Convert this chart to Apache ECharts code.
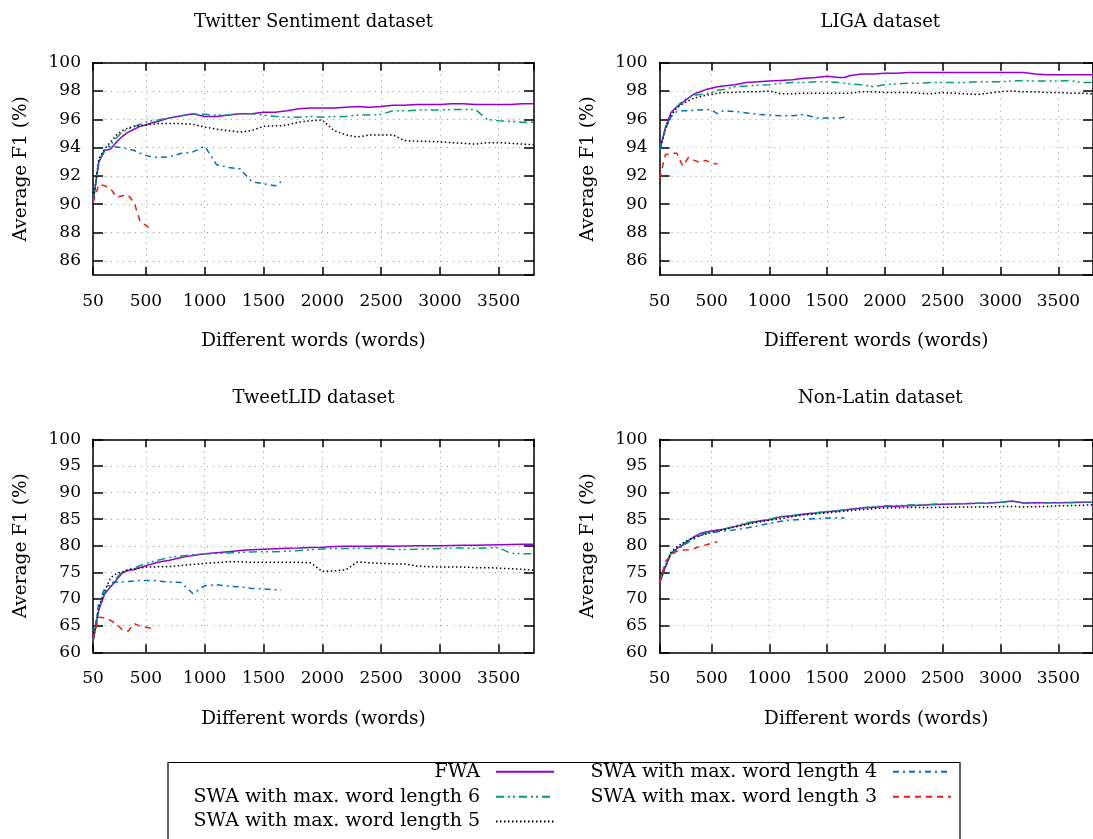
<!DOCTYPE html>
<html>
<head>
<meta charset="utf-8">
<script src="https://cdn.jsdelivr.net/npm/echarts@6/dist/echarts.min.js"></script>
<style>
html, body { margin: 0; padding: 0; background: #fff; }
#chart { width: 1093px; height: 839px; }
</style>
</head>
<body>
<div id="chart"></div>
<script>
// x values (number of different words), shared by every panel
const words = [50, 100, 150, 200, 250, 300, 350, 400, 450, 500, 550, 600, 700, 800, 900, 1000,
  1100, 1200, 1300, 1400, 1500, 1600, 1650, 1700, 1800, 1900, 2000, 2100, 2200, 2300, 2400,
  2500, 2600, 2700, 2800, 2900, 3000, 3100, 3200, 3300, 3400, 3500, 3600, 3700, 3800];

// Twitter Sentiment
const twitterFwa = [90.1, 93.0, 93.8, 93.9, 94.4, 94.8, 95.1, 95.3, 95.5, 95.6, 95.75, 95.85, 96.1, 96.25, 96.4, 96.2,
  96.2, 96.3, 96.4, 96.4, 96.5, 96.5, 96.55, 96.6, 96.75, 96.8, 96.8, 96.8, 96.85, 96.9, 96.85,
  96.9, 97.0, 97.0, 97.05, 97.05, 97.05, 97.1, 97.1, 97.05, 97.05, 97.05, 97.05, 97.1, 97.1];
const twitterSwa6 = [90.2, 93.1, 93.9, 94.2, 94.7, 95.1, 95.3, 95.5, 95.65, 95.8, 95.9, 95.95, 96.1, 96.25, 96.35, 96.35,
  96.3, 96.3, 96.4, 96.4, 96.3, 96.2, 96.2, 96.15, 96.15, 96.2, 96.15, 96.2, 96.2, 96.3, 96.3,
  96.35, 96.6, 96.6, 96.65, 96.65, 96.65, 96.7, 96.7, 96.7, 96.0, 95.9, 95.85, 95.8, 95.8];
const twitterSwa5 = [90.2, 93.2, 93.9, 94.4, 94.9, 95.2, 95.4, 95.5, 95.55, 95.6, 95.65, 95.7, 95.7, 95.7, 95.65, 95.45,
  95.3, 95.2, 95.1, 95.2, 95.5, 95.55, 95.55, 95.6, 95.8, 95.9, 95.95, 95.2, 94.9, 94.75, 94.9,
  94.9, 94.9, 94.5, 94.45, 94.45, 94.4, 94.35, 94.3, 94.25, 94.35, 94.35, 94.3, 94.25, 94.2];
const twitterSwa4 = [90.2, 93.0, 93.8, 94.1, 94.05, 94.0, 93.9, 93.8, 93.6, 93.45, 93.35, 93.3, 93.35, 93.6, 93.7, 94.1,
  92.8, 92.6, 92.5, 91.6, 91.45, 91.3, 91.6];
const twitterSwa3 = [90.1, 91.4, 91.3, 91.1, 90.5, 90.6, 90.65, 90.1, 88.8, 88.5, 88.2];

// LIGA
const ligaFwa = [93.8, 95.4, 96.5, 96.9, 97.2, 97.5, 97.8, 97.95, 98.1, 98.2, 98.3, 98.35, 98.45, 98.6, 98.65, 98.7,
  98.75, 98.8, 98.9, 98.95, 99.05, 98.95, 98.95, 99.1, 99.2, 99.2, 99.25, 99.25, 99.3, 99.3, 99.3,
  99.3, 99.3, 99.3, 99.3, 99.3, 99.3, 99.3, 99.3, 99.2, 99.15, 99.15, 99.15, 99.15, 99.15];
const ligaSwa6 = [93.8, 95.4, 96.3, 96.9, 97.3, 97.55, 97.7, 97.75, 97.8, 97.9, 98.05, 98.1, 98.3, 98.35, 98.4, 98.45,
  98.55, 98.6, 98.6, 98.65, 98.65, 98.6, 98.55, 98.5, 98.45, 98.3, 98.45, 98.5, 98.55, 98.55, 98.6,
  98.6, 98.6, 98.6, 98.65, 98.65, 98.65, 98.7, 98.75, 98.7, 98.7, 98.7, 98.75, 98.6, 98.6];
const ligaSwa5 = [93.8, 95.3, 96.3, 96.8, 97.1, 97.3, 97.5, 97.6, 97.7, 97.75, 97.85, 97.9, 97.9, 97.95, 97.95, 98.0,
  97.8, 97.8, 97.85, 97.85, 97.85, 97.85, 97.85, 97.85, 97.95, 97.95, 97.9, 97.9, 97.9, 97.85, 97.8,
  97.9, 97.85, 97.8, 97.75, 97.85, 97.95, 98.0, 97.95, 97.95, 97.9, 97.9, 97.85, 97.85, 97.8];
const ligaSwa4 = [93.8, 95.3, 96.2, 96.55, 96.6, 96.6, 96.65, 96.65, 96.7, 96.65, 96.4, 96.6, 96.55, 96.45, 96.35, 96.3,
  96.25, 96.25, 96.35, 96.1, 96.1, 96.1, 96.15];
const ligaSwa3 = [91.8, 93.5, 93.6, 93.6, 92.7, 93.3, 93.1, 92.95, 93.1, 92.9, 92.85];

// TweetLID
const tweetlidFwa = [62.0, 68.0, 71.0, 72.3, 73.6, 74.9, 75.4, 75.5, 75.9, 76.25, 76.6, 76.9, 77.3, 77.8, 78.2, 78.5,
  78.7, 78.9, 79.1, 79.25, 79.35, 79.45, 79.5, 79.55, 79.6, 79.7, 79.75, 79.85, 79.9, 79.9, 79.9,
  79.95, 79.9, 79.95, 80.0, 80.0, 80.0, 80.05, 80.1, 80.1, 80.15, 80.2, 80.25, 80.3, 80.3];
const tweetlidSwa6 = [62.0, 68.2, 71.3, 72.6, 74.0, 75.1, 75.5, 75.8, 76.3, 76.7, 77.0, 77.3, 77.8, 78.1, 78.3, 78.5,
  78.55, 78.65, 78.75, 78.85, 78.9, 78.9, 78.95, 79.0, 79.1, 79.25, 79.4, 79.5, 79.5, 79.55, 79.5,
  79.6, 79.3, 79.3, 79.35, 79.4, 79.5, 79.6, 79.6, 79.5, 79.6, 79.65, 78.6, 78.5, 78.5];
const tweetlidSwa5 = [62.0, 68.5, 71.6, 74.0, 74.8, 75.1, 75.5, 75.7, 75.8, 76.0, 76.0, 76.05, 76.1, 76.3, 76.5, 76.7,
  76.85, 77.0, 77.0, 76.9, 76.9, 76.9, 76.9, 76.9, 76.9, 76.8, 75.2, 75.3, 75.5, 77.0, 76.8,
  76.7, 76.6, 76.6, 76.2, 76.1, 76.0, 76.0, 76.0, 75.9, 75.9, 75.8, 75.7, 75.6, 75.4];
const tweetlidSwa4 = [62.0, 69.5, 72.0, 72.9, 73.2, 73.2, 73.3, 73.4, 73.5, 73.5, 73.5, 73.4, 73.2, 73.1, 71.0, 72.5,
  72.7, 72.4, 72.3, 72.0, 71.9, 71.75, 71.7];
const tweetlidSwa3 = [62.5, 66.6, 66.5, 66.0, 65.3, 64.2, 64.0, 65.4, 64.9, 64.7, 64.5];

// Non-Latin
const nonLatinFwa = [73.0, 76.0, 78.6, 79.5, 80.1, 81.0, 81.7, 82.3, 82.6, 82.8, 82.95, 83.1, 83.6, 84.15, 84.6, 84.9,
  85.45, 85.65, 85.95, 86.15, 86.4, 86.6, 86.7, 86.85, 87.1, 87.25, 87.4, 87.45, 87.5, 87.6, 87.7,
  87.8, 87.85, 87.9, 88.0, 88.05, 88.2, 88.4, 88.05, 88.1, 88.1, 88.1, 88.15, 88.2, 88.2];
const nonLatinSwa6 = [73.0, 76.2, 78.7, 79.6, 80.3, 81.0, 81.6, 82.1, 82.4, 82.6, 82.85, 83.05, 83.7, 84.3, 84.65, 85.0,
  85.5, 85.7, 86.0, 86.2, 86.45, 86.65, 86.75, 86.9, 87.15, 87.35, 87.5, 87.55, 87.65, 87.75, 87.8,
  87.85, 87.9, 87.95, 88.0, 88.05, 88.15, 88.3, 88.0, 88.0, 88.05, 88.1, 88.1, 88.15, 88.2];
const nonLatinSwa5 = [73.0, 76.3, 78.9, 79.8, 80.5, 81.1, 81.5, 81.9, 82.2, 82.5, 82.8, 83.0, 83.5, 84.0, 84.4, 84.8,
  85.1, 85.5, 85.8, 86.0, 86.2, 86.4, 86.5, 86.6, 86.8, 86.95, 87.1, 87.15, 87.2, 87.2, 87.2,
  87.25, 87.25, 87.3, 87.3, 87.35, 87.35, 87.4, 87.3, 87.35, 87.4, 87.5, 87.55, 87.6, 87.7];
const nonLatinSwa4 = [73.0, 76.0, 78.4, 79.3, 80.0, 80.7, 81.3, 81.9, 82.3, 82.5, 82.65, 82.75, 83.0, 83.35, 83.75, 84.2,
  84.6, 84.85, 85.0, 85.1, 85.2, 85.2, 85.2];
const nonLatinSwa3 = [73.0, 77.0, 78.3, 79.0, 79.2, 79.25, 79.5, 79.9, 80.15, 80.45, 80.75];

const seriesNames = ['FWA', 'SWA with max. word length 6', 'SWA with max. word length 5',
  'SWA with max. word length 4', 'SWA with max. word length 3'];

const panels = [
  { title: 'Twitter Sentiment dataset', yMin: 85, yStep: 2,
    lines: [twitterFwa, twitterSwa6, twitterSwa5, twitterSwa4, twitterSwa3] },
  { title: 'LIGA dataset', yMin: 85, yStep: 2,
    lines: [ligaFwa, ligaSwa6, ligaSwa5, ligaSwa4, ligaSwa3] },
  { title: 'TweetLID dataset', yMin: 60, yStep: 5,
    lines: [tweetlidFwa, tweetlidSwa6, tweetlidSwa5, tweetlidSwa4, tweetlidSwa3] },
  { title: 'Non-Latin dataset', yMin: 60, yStep: 5,
    lines: [nonLatinFwa, nonLatinSwa6, nonLatinSwa5, nonLatinSwa4, nonLatinSwa3] }
];

// layout
const boxes = [
  { left: 93, top: 62.7, width: 441, height: 212.3 },
  { left: 659.6, top: 62.7, width: 441.4, height: 212.3 },
  { left: 93, top: 439.3, width: 441, height: 213 },
  { left: 659.6, top: 439.3, width: 441.4, height: 213 }
];
const titleY = [22, 22, 398.5, 398.5];

const lineStyles = [
  { color: '#9400d3', type: 'solid' },
  { color: '#009e73', type: [8, 4, 2, 3, 2, 4] },
  { color: '#000000', type: [1.5, 2.5] },
  { color: '#0072b2', type: [6, 4, 2, 4] },
  { color: '#e51e10', type: [6, 5] }
];

const FONT = 'DejaVu Serif';
const frame = { show: true, onZero: false, lineStyle: { color: '#000', width: 1.5 } };
const grid = { show: true, lineStyle: { color: '#9a9a9a', width: 1, type: [1, 5] } };
const plain = v => String(v);

const grids = [], xAxes = [], yAxes = [], series = [], graphics = [];

panels.forEach((p, i) => {
  const b = boxes[i];
  grids.push({ left: b.left, top: b.top, width: b.width, height: b.height });

  const xBase = {
    gridIndex: i, type: 'value', min: 50, max: 3800, minInterval: 500, maxInterval: 500,
    axisLine: frame,
    axisTick: { show: true, inside: true, length: 8, lineStyle: { color: '#000', width: 1.5 } }
  };
  xAxes.push(Object.assign({}, xBase, {
    position: 'bottom',
    axisLabel: { fontFamily: FONT, fontSize: 17, color: '#000', margin: 18, formatter: plain,
      showMinLabel: true, showMaxLabel: false },
    splitLine: grid,
    name: 'Different words (words)', nameLocation: 'middle', nameGap: 57,
    nameTextStyle: { fontFamily: FONT, fontSize: 18.5, color: '#000' }
  }));
  xAxes.push(Object.assign({}, xBase, {
    position: 'top', axisLabel: { show: false }, splitLine: { show: false }
  }));

  const yBase = {
    gridIndex: i, type: 'value', min: p.yMin, max: 100, minInterval: p.yStep, maxInterval: p.yStep,
    axisLine: frame,
    axisTick: { show: true, inside: true, length: 10, lineStyle: { color: '#000', width: 1.5 } }
  };
  yAxes.push(Object.assign({}, yBase, {
    position: 'left',
    axisLabel: { fontFamily: FONT, fontSize: 17, color: '#000', margin: 12, formatter: plain,
      showMinLabel: p.yMin % p.yStep === 0, showMaxLabel: true },
    splitLine: grid,
    name: 'Average F1 (%)', nameLocation: 'middle', nameGap: 62,
    nameTextStyle: { fontFamily: FONT, fontSize: 18.5, color: '#000' }
  }));
  yAxes.push(Object.assign({}, yBase, {
    position: 'right', axisLabel: { show: false }, splitLine: { show: false }
  }));

  p.lines.forEach((ys, k) => {
    series.push({
      name: seriesNames[k], type: 'line', xAxisIndex: i * 2, yAxisIndex: i * 2,
      data: ys.map((y, j) => [words[j], y]),
      symbol: 'none', silent: true,
      lineStyle: { color: lineStyles[k].color, width: 1.5, type: lineStyles[k].type },
      itemStyle: { color: lineStyles[k].color }
    });
  });

  graphics.push({
    type: 'text', x: b.left + b.width / 2, y: titleY[i],
    style: { text: p.title, font: '18px "' + FONT + '"', fill: '#000',
      align: 'center', verticalAlign: 'middle', textAlign: 'center', textVerticalAlign: 'middle' }
  });
});

// legend frame
graphics.push({
  type: 'rect', z: -1, shape: { x: 168, y: 762.5, width: 792, height: 120 },
  style: { fill: 'none', stroke: '#000', lineWidth: 1.2 }
});

// one legend per entry so each row can be placed like the original key
const legendSlots = [
  { right: 538, top: 761.7 },
  { right: 538, top: 786.7 },
  { right: 538, top: 811.5 },
  { right: 141, top: 761.7 },
  { right: 141, top: 786.7 }
];
const legends = seriesNames.map((name, k) => ({
  data: [name], right: legendSlots[k].right, top: legendSlots[k].top,
  orient: 'horizontal', align: 'right', padding: 0,
  itemWidth: 58, itemHeight: 20, selectedMode: false,
  itemStyle: { opacity: 0 },
  textStyle: { fontFamily: FONT, fontSize: 19, color: '#000', lineHeight: 20, padding: [0, 11, 0, 0] }
}));

const chart = echarts.init(document.getElementById('chart'));
chart.setOption({
  animation: false,
  backgroundColor: '#fff',
  grid: grids,
  xAxis: xAxes,
  yAxis: yAxes,
  legend: legends,
  graphic: graphics,
  series: series
});
</script>
</body>
</html>
